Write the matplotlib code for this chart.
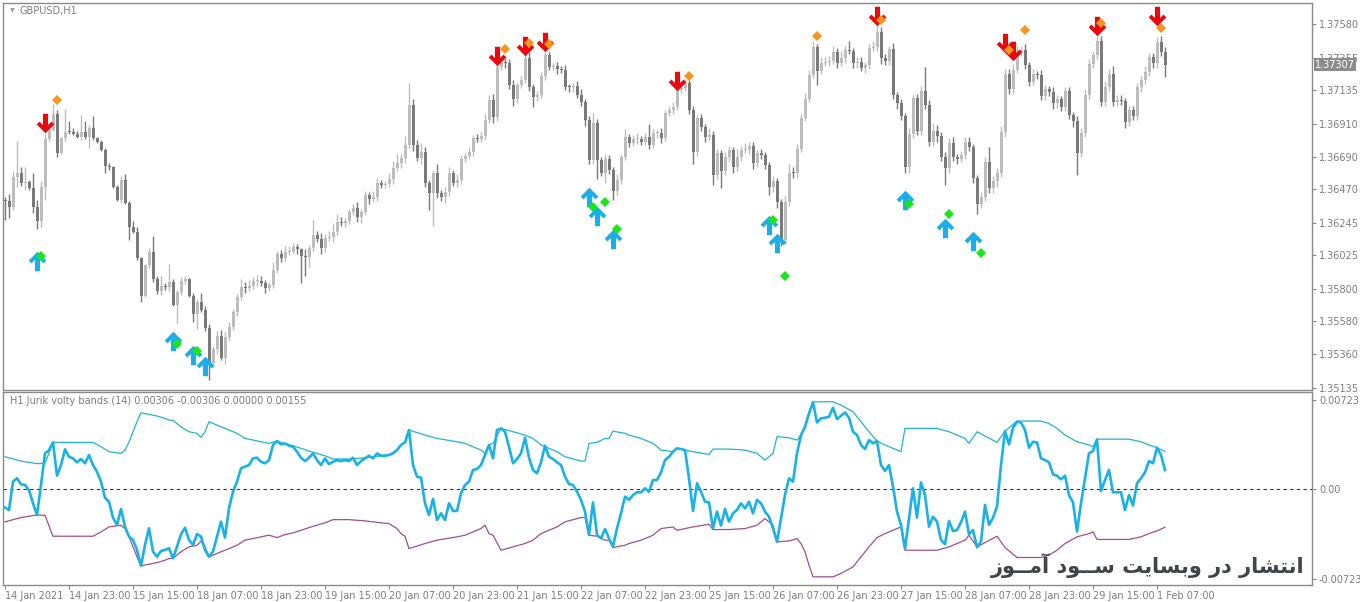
import numpy as np
import matplotlib.pyplot as plt
from matplotlib.path import Path
from matplotlib.transforms import blended_transform_factory

PIP = 0.0001
POINT = 0.00001

# GBPUSD H1, one value per bar, bar 0 = 14 Jan 2021 07:00
first_open = 1.36398
close = [
    1.36391, 1.36348, 1.36555, 1.36582, 1.36514, 1.36521, 1.36476, 1.36348, 1.36259, 1.36487,
    1.36806, 1.36869, 1.36976, 1.36716, 1.36813, 1.36857, 1.36853, 1.36842, 1.36824, 1.36857,
    1.36819, 1.36880, 1.36813, 1.36790, 1.36734, 1.36629, 1.36618, 1.36487, 1.36398, 1.36532,
    1.36380, 1.36218, 1.36185, 1.36005, 1.35754, 1.35960, 1.36045, 1.35864, 1.35788, 1.35819,
    1.35814, 1.35848, 1.35691, 1.35781, 1.35852, 1.35864, 1.35754, 1.35628, 1.35709, 1.35657,
    1.35534, 1.35298, 1.35393, 1.35483, 1.35332, 1.35478, 1.35545, 1.35646, 1.35747, 1.35814,
    1.35803, 1.35821, 1.35852, 1.35854, 1.35841, 1.35803, 1.35826, 1.35927, 1.36032, 1.36010,
    1.36050, 1.36057, 1.36079, 1.36066, 1.36021, 1.36016, 1.36073, 1.36160, 1.36133, 1.36077,
    1.36140, 1.36146, 1.36185, 1.36252, 1.36245, 1.36254, 1.36315, 1.36342, 1.36281, 1.36319,
    1.36431, 1.36402, 1.36420, 1.36514, 1.36496, 1.36503, 1.36537, 1.36611, 1.36644, 1.36678,
    1.36768, 1.37035, 1.36768, 1.36683, 1.36723, 1.36514, 1.36443, 1.36582, 1.36443, 1.36420,
    1.36454, 1.36577, 1.36514, 1.36532, 1.36671, 1.36694, 1.36723, 1.36813, 1.36806, 1.36828,
    1.36936, 1.37071, 1.36958, 1.37295, 1.37329, 1.37317, 1.37172, 1.37077, 1.37172, 1.37205,
    1.37351, 1.37160, 1.37093, 1.37104, 1.37232, 1.37373, 1.37295, 1.37297, 1.37277, 1.37273,
    1.37160, 1.37156, 1.37165, 1.37104, 1.37059, 1.36936, 1.36667, 1.36914, 1.36667, 1.36582,
    1.36671, 1.36600, 1.36460, 1.36532, 1.36685, 1.36824, 1.36784, 1.36806, 1.36810, 1.36790,
    1.36819, 1.36768, 1.36846, 1.36850, 1.36813, 1.36981, 1.37003, 1.37026, 1.37138, 1.37149,
    1.37183, 1.37003, 1.36723, 1.36947, 1.36891, 1.36819, 1.36835, 1.36566, 1.36712, 1.36595,
    1.36689, 1.36734, 1.36622, 1.36689, 1.36734, 1.36740, 1.36761, 1.36649, 1.36712, 1.36700,
    1.36633, 1.36483, 1.36526, 1.36382, 1.36129, 1.36386, 1.36582, 1.36577, 1.36741, 1.36947,
    1.37077, 1.37239, 1.37430, 1.37268, 1.37317, 1.37329, 1.37335, 1.37391, 1.37317, 1.37351,
    1.37407, 1.37403, 1.37317, 1.37329, 1.37284, 1.37306, 1.37418, 1.37430, 1.37530, 1.37351,
    1.37335, 1.37412, 1.37104, 1.37048, 1.36963, 1.36618, 1.36842, 1.37082, 1.36864, 1.37133,
    1.37037, 1.36790, 1.36864, 1.36828, 1.36689, 1.36611, 1.36784, 1.36689, 1.36671, 1.36700,
    1.36790, 1.36757, 1.36544, 1.36371, 1.36420, 1.36656, 1.36476, 1.36526, 1.36582, 1.36853,
    1.37246, 1.37142, 1.37273, 1.37396, 1.37407, 1.37306, 1.37194, 1.37246, 1.37239, 1.37100,
    1.37142, 1.37127, 1.37048, 1.37075, 1.37026, 1.37131, 1.36970, 1.36932, 1.36716, 1.36851,
    1.37104, 1.37313, 1.37373, 1.37470, 1.37059, 1.37160, 1.37246, 1.37059, 1.37071, 1.37066,
    1.36925, 1.37003, 1.36963, 1.37156, 1.37205, 1.37261, 1.37358, 1.37317, 1.37463, 1.37396,
    1.37307,
]
# wick lengths in pips above / below the body
upper_wick = [
    2, 5, 4, 21, 4, 10, 1, 10, 5, 4,   4, 2, 7, 3, 1, 15, 7, 3, 2, 11,
    7, 2, 8, 1, 1, 1, 2, 1, 1, 3,   4, 1, 4, 3, 1, 1, 3, 11, 2, 7,
    2, 12, 2, 1, 3, 2, 1, 2, 2, 6,   3, 3, 2, 3, 4, 3, 3, 2, 2, 5,
    3, 4, 3, 4, 3, 2, 2, 5, 2, 3,   4, 3, 3, 2, 1, 5, 2, 10, 3, 4,
    3, 4, 6, 5, 3, 2, 2, 3, 4, 2,   3, 2, 4, 3, 2, 2, 4, 5, 6, 3,
    6, 15, 4, 3, 6, 3, 2, 2, 6, 2,   3, 4, 2, 4, 3, 2, 3, 2, 3, 3,
    4, 3, 4, 2, 3, 2, 3, 3, 2, 3,   3, 4, 2, 3, 3, 2, 2, 2, 3, 2,
    3, 2, 2, 3, 4, 2, 3, 7, 3, 2,   3, 3, 2, 4, 2, 5, 2, 3, 4, 2,
    3, 9, 3, 2, 3, 2, 3, 3, 4, 3,   3, 2, 3, 2, 3, 2, 5, 3, 3, 2,
    3, 3, 2, 5, 3, 4, 3, 3, 2, 3,   2, 2, 3, 2, 2, 4, 6, 4, 3, 3,
    4, 3, 4, 2, 4, 3, 3, 4, 3, 5,   3, 6, 2, 3, 3, 2, 3, 4, 5, 3,
    3, 2, 4, 2, 3, 2, 4, 3, 3, 3,   16, 3, 5, 4, 3, 3, 3, 4, 2, 3,
    3, 3, 2, 2, 3, 3, 10, 3, 3, 4,   3, 3, 4, 4, 3, 4, 2, 3, 2, 3,
    3, 2, 3, 3, 2, 3, 3, 2, 3, 3,   4, 3, 3, 3, 3, 4, 3, 5, 3, 3,
    2, 3, 3, 3, 3, 4, 3, 3, 3, 4,   3,
]
lower_wick = [
    13, 7, 2, 7, 2, 5, 1, 4, 6, 4,   9, 1, 1, 3, 1, 2, 1, 1, 1, 2,
    1, 7, 1, 1, 1, 5, 2, 1, 1, 2,   1, 9, 1, 1, 4, 1, 2, 2, 2, 3,
    2, 3, 1, 12, 2, 2, 1, 5, 10, 1,   2, 11, 2, 3, 1, 4, 3, 2, 3, 2,
    3, 2, 2, 3, 2, 3, 2, 2, 2, 3,   2, 2, 2, 3, 18, 13, 7, 2, 2, 4,
    3, 2, 3, 2, 2, 3, 2, 2, 3, 4,   2, 3, 2, 3, 2, 2, 2, 3, 2, 3,
    3, 2, 4, 2, 4, 3, 11, 22, 3, 3,   4, 3, 2, 3, 3, 2, 2, 3, 2, 2,
    3, 2, 4, 3, 2, 3, 3, 5, 3, 2,   2, 3, 7, 3, 2, 3, 2, 2, 3, 2,
    2, 3, 3, 2, 3, 4, 3, 3, 13, 2,   7, 3, 6, 3, 3, 2, 3, 2, 3, 2,
    2, 3, 2, 3, 3, 2, 2, 3, 2, 2,   2, 3, 8, 3, 3, 3, 2, 7, 3, 12,
    3, 3, 4, 3, 3, 2, 3, 4, 3, 3,   3, 5, 3, 4, 4, 3, 3, 3, 3, 2,
    2, 2, 2, 10, 2, 2, 3, 2, 3, 2,   3, 2, 3, 3, 2, 3, 3, 2, 3, 4,
    3, 3, 3, 4, 3, 4, 4, 3, 3, 3,   3, 3, 3, 4, 3, 11, 3, 3, 3, 2,
    3, 3, 3, 7, 3, 3, 3, 3, 4, 3,   3, 3, 3, 2, 3, 3, 3, 2, 3, 3,
    3, 3, 4, 3, 3, 3, 3, 4, 15, 3,   3, 3, 3, 3, 3, 3, 3, 3, 3, 3,
    4, 3, 3, 3, 3, 3, 3, 3, 3, 3,   8,
]

# signal markers (bar index, price)
red_bar = [10, 123, 130, 135, 168, 218, 250, 252, 273, 288]
red_price = [1.36916, 1.37367, 1.37434, 1.37461, 1.37198, 1.37636, 1.37454, 1.37400, 1.37569, 1.37636]
blue_bar = [8, 42, 47, 50, 146, 148, 152, 191, 193, 225, 235, 242]
blue_price = [1.35987, 1.35449, 1.35355, 1.35281, 1.36418, 1.36290, 1.36135, 1.36229, 1.36108,
              1.36398, 1.36209, 1.36122]
orange_bar = [13, 125, 131, 136, 171, 203, 219, 251, 255, 274, 289]
orange_price = [1.37071, 1.37412, 1.37456, 1.37447, 1.37234, 1.37501, 1.37609, 1.37407, 1.37542,
                1.37587, 1.37553]
green_bar = [9, 43, 48, 147, 150, 153, 192, 195, 226, 236, 244]
green_price = [1.36021, 1.35429, 1.35384, 1.36349, 1.36382, 1.36200, 1.36263, 1.35888, 1.36371,
               1.36301, 1.36039]

# Jurik volty bands, in points (1e-5)
jurik = [
    -148, -167, 62, 89, 40, 35, -6, -113, -207, 35,
    290, 317, 379, 110, 196, 323, 263, 250, 218, 245,
    210, 277, 196, 142, 62, -68, -100, -229, -288, -159,
    -302, -382, -409, -490, -619, -450, -315, -503, -544, -498,
    -490, -476, -557, -463, -363, -310, -409, -450, -361, -382,
    -490, -544, -503, -382, -261, -390, -154, -19, 62, 169,
    183, 196, 250, 255, 223, 210, 236, 358, 390, 363,
    371, 352, 344, 304, 255, 228, 255, 290, 236, 196,
    250, 204, 223, 236, 228, 236, 228, 255, 196, 228,
    250, 271, 250, 290, 271, 271, 277, 290, 317, 358,
    379, 479, 196, 102, 94, -113, -207, -78, -248, -194,
    -248, -113, -175, -175, -33, 35, 62, 156, 164, 196,
    277, 358, 250, 479, 492, 465, 344, 210, 245, 290,
    417, 255, 156, 129, 218, 352, 263, 245, 218, 196,
    102, 43, 35, -19, -86, -180, -369, -105, -369, -396,
    -320, -396, -463, -315, -194, -59, -86, -46, -24, -24,
    8, -19, 75, 75, 137, 236, 263, 304, 331, 325,
    317, 89, -175, 48, -19, -100, -105, -315, -180, -293,
    -159, -261, -194, -167, -113, -154, -100, -194, -86, -113,
    -180, -221, -315, -423, -234, -46, 89, 62, 290, 438,
    505, 613, 702, 540, 573, 578, 586, 659, 567, 594,
    621, 578, 465, 438, 358, 325, 398, 371, 390, 196,
    148, 196, 21, -180, -288, -482, -234, 8, -229, 56,
    -46, -302, -221, -261, -409, -444, -256, -337, -329, -266,
    -180, -363, -329, -468, -423, -127, -288, -229, -140, 196,
    470, 363, 497, 546, 540, 479, 336, 384, 379, 250,
    236, 218, 121, 110, 80, 110, -46, -105, -342, -113,
    89, 290, 309, 403, -14, 75, 156, -24, -24, -24,
    -167, -46, -132, 48, 89, 137, 228, 210, 336, 277,
    155,
]
band_bar = [0, 4, 8, 10, 12, 22, 24, 26, 29, 30,
            31, 32, 33, 34, 36, 38, 40, 41, 42, 44,
            46, 48, 49, 50, 51, 52, 54, 56, 58, 60,
            62, 64, 66, 68, 70, 72, 74, 76, 78, 80,
            82, 86, 90, 94, 96, 98, 99, 100, 101, 105,
            108, 113, 115, 119, 120, 121, 122, 124, 127, 130,
            132, 134, 138, 140, 144, 145, 146, 148, 150, 151,
            152, 155, 156, 159, 162, 164, 167, 168, 170, 172,
            176, 177, 181, 185, 188, 190, 191, 192, 193, 196,
            198, 199, 200, 201, 202, 207, 209, 212, 214, 216,
            218, 220, 222, 224, 225, 233, 236, 240, 241, 243,
            248, 250, 253, 259, 261, 263, 265, 268, 271, 272,
            273, 281, 284, 286, 288, 290]
band_val = [263, 228, 207, 210, 379, 379, 344, 304, 290, 317,
            382, 465, 546, 618, 605, 592, 573, 559, 557, 505,
            465, 452, 419, 465, 546, 532, 505, 479, 452, 411,
            398, 384, 371, 390, 366, 352, 331, 309, 290, 271,
            245, 245, 255, 271, 277, 317, 358, 379, 479, 438,
            411, 384, 371, 317, 290, 358, 371, 492, 465, 438,
            411, 358, 304, 263, 228, 228, 371, 379, 411, 411,
            470, 452, 438, 411, 371, 317, 304, 331, 317, 304,
            282, 325, 325, 317, 290, 236, 263, 290, 425, 417,
            398, 438, 505, 613, 707, 707, 680, 626, 546, 465,
            390, 358, 331, 304, 492, 492, 465, 411, 371, 465,
            379, 470, 551, 551, 532, 492, 438, 384, 358, 344,
            405, 405, 384, 358, 336, 306]

price_ticks = [1.37580, 1.37355, 1.37135, 1.36910, 1.36690, 1.36470, 1.36245,
               1.36025, 1.35800, 1.35580, 1.35360, 1.35135]
time_bars = list(range(0, 289, 16))
time_labels = ["14 Jan 2021", "14 Jan 23:00", "15 Jan 15:00", "18 Jan 07:00", "18 Jan 23:00",
               "19 Jan 15:00", "20 Jan 07:00", "20 Jan 23:00", "21 Jan 15:00", "22 Jan 07:00",
               "22 Jan 23:00", "25 Jan 15:00", "26 Jan 07:00", "26 Jan 23:00", "27 Jan 15:00",
               "28 Jan 07:00", "28 Jan 23:00", "29 Jan 15:00", "1 Feb 07:00"]
watermark = "انتشار در وبسایت ســود آمــوز"

# presentation forms: isolated, final, initial, medial
FORMS = {
    'ا': ('\uFE8D', '\uFE8E', None, None),
    'آ': ('\uFE81', '\uFE82', None, None),
    'ب': ('\uFE8F', '\uFE90', '\uFE91', '\uFE92'),
    'ت': ('\uFE95', '\uFE96', '\uFE97', '\uFE98'),
    'د': ('\uFEA9', '\uFEAA', None, None),
    'ر': ('\uFEAD', '\uFEAE', None, None),
    'ز': ('\uFEAF', '\uFEB0', None, None),
    'س': ('\uFEB1', '\uFEB2', '\uFEB3', '\uFEB4'),
    'ش': ('\uFEB5', '\uFEB6', '\uFEB7', '\uFEB8'),
    'م': ('\uFEE1', '\uFEE2', '\uFEE3', '\uFEE4'),
    'ن': ('\uFEE5', '\uFEE6', '\uFEE7', '\uFEE8'),
    'و': ('\uFEED', '\uFEEE', None, None),
    'ی': ('\uFEEF', '\uFEF0', '\uFEF3', '\uFEF4'),
}


def shape_rtl(text):
    # matplotlib has no arabic shaping, so pick joined forms and reverse
    out = []
    for i, ch in enumerate(text):
        if ch not in FORMS:
            out.append(ch)
            continue
        prev = text[i - 1] if i > 0 else ' '
        nxt = text[i + 1] if i + 1 < len(text) else ' '
        joins_prev = prev == 'ـ' or (prev in FORMS and FORMS[prev][2] is not None)
        joins_next = FORMS[ch][2] is not None and (nxt == 'ـ' or nxt in FORMS)
        iso, fin, ini, med = FORMS[ch]
        if joins_prev and joins_next:
            out.append(med)
        elif joins_prev:
            out.append(fin)
        elif joins_next:
            out.append(ini)
        else:
            out.append(iso)
    return ''.join(out)[::-1]


def arrow_path(up=True):
    v = [(0, 0.55), (0.5, 0.05), (0.34, -0.11), (0.145, 0.085), (0.145, -0.55),
         (-0.145, -0.55), (-0.145, 0.085), (-0.34, -0.11), (-0.5, 0.05), (0, 0.55)]
    if not up:
        v = [(x, -y) for x, y in v]
    return Path(v, closed=True)


W, H = 1360, 602
TXT = '#7d7d7d'
FRAME = '#8a8a8a'
LIGHT = '#bdbdbd'
DARK = '#7a7a7a'

fig = plt.figure(figsize=(W / 100, H / 100), dpi=100)
fig.patch.set_facecolor('white')
ax = fig.add_axes([3 / W, 1 - 390 / H, 1309 / W, 387 / H])
ax2 = fig.add_axes([3 / W, 1 - 585 / H, 1309 / W, 193 / H])

# candles
close = np.array(close)
opens = np.concatenate([[first_open], close[:-1]])
bars = np.arange(len(close))
body_lo = np.minimum(opens, close)
body_hi = np.maximum(opens, close)
high = body_hi + np.array(upper_wick) * PIP
low = body_lo - np.array(lower_wick) * PIP
colors = np.where(close >= opens, LIGHT, DARK)
ax.vlines(bars, low, high, colors=colors, lw=1, zorder=2)
ax.bar(bars, np.maximum(body_hi - body_lo, 0.6 * PIP), bottom=body_lo, width=0.75,
       color=colors, linewidth=0, zorder=2)

ax.plot(red_bar, red_price, linestyle='none', marker=arrow_path(False), markersize=14,
        color='#e8090f', markeredgewidth=0, zorder=4)
ax.plot(blue_bar, blue_price, linestyle='none', marker=arrow_path(True), markersize=14,
        color='#1aaeea', markeredgewidth=0, zorder=4)
ax.plot(orange_bar, orange_price, linestyle='none', marker='D', markersize=5,
        color='#f7951d', markeredgewidth=0, zorder=5)
ax.plot(green_bar, green_price, linestyle='none', marker='D', markersize=5,
        color='#19e619', markeredgewidth=0, zorder=5)

ax.set_xlim(-0.5, 326.75)
ax.set_ylim(1.35119, 1.37723)
ax.set_xticks([])
ax.yaxis.tick_right()
ax.set_yticks(price_ticks)
ax.set_yticklabels([f"{p:.5f}" for p in price_ticks])

# last price tag
trans = blended_transform_factory(ax.transAxes, ax.transData)
ax.text(1 + 3 / 1309, close[-1], f"{close[-1]:.5f}", transform=trans, ha='left', va='center',
        fontsize=7, color='white', zorder=10, clip_on=False,
        bbox=dict(boxstyle='square,pad=0.15', facecolor='#8c8c8c', edgecolor='none'))

# indicator window
band_x = np.array(band_bar)
band_y = np.array(band_val) * POINT
ax2.plot(band_x, band_y, color='#22b4cc', lw=0.9, zorder=2)
ax2.plot(band_x, -band_y, color='#a0508e', lw=0.9, zorder=2)
ax2.axhline(0, color='#333333', lw=0.8, dashes=(3, 3), zorder=1)
ax2.plot(bars, np.array(jurik) * POINT, color='#1ab2e6', lw=1.9, zorder=3)
ax2.set_xlim(-0.5, 326.75)
ax2.set_ylim(-0.00773, 0.00786)
ax2.yaxis.tick_right()
ax2.set_yticks([0.00723, 0.0, -0.00723])
ax2.set_yticklabels(['0.00723', '0.00', '-0.00723'])
ax2.set_xticks(time_bars)
ax2.set_xticklabels(time_labels, ha='left')

for a in (ax, ax2):
    for s in a.spines.values():
        s.set_color(FRAME)
        s.set_linewidth(1)
    a.tick_params(axis='y', length=3, width=0.8, color=FRAME, labelsize=7, labelcolor=TXT, pad=2)
    a.tick_params(axis='x', length=3, width=0.8, color=FRAME, labelsize=7, labelcolor=TXT, pad=1)

fig.text(12 / W, 1 - 11 / H, '\u25bc', fontsize=4.5, color='#999999', ha='center', va='center')
fig.text(20 / W, 1 - 11 / H, 'GBPUSD,H1', fontsize=7, color=TXT, ha='left', va='center')
fig.text(10 / W, 1 - 401 / H, 'H1 Jurik volty bands (14) 0.00306 -0.00306 0.00000 0.00155',
         fontsize=7, color=TXT, ha='left', va='center')
fig.text(1305 / W, 1 - 566 / H, shape_rtl(watermark), fontsize=15, fontweight='bold',
         family='DejaVu Sans', color='#41454b', ha='right', va='center')

fig.savefig('out.png', dpi=100, facecolor='white')
